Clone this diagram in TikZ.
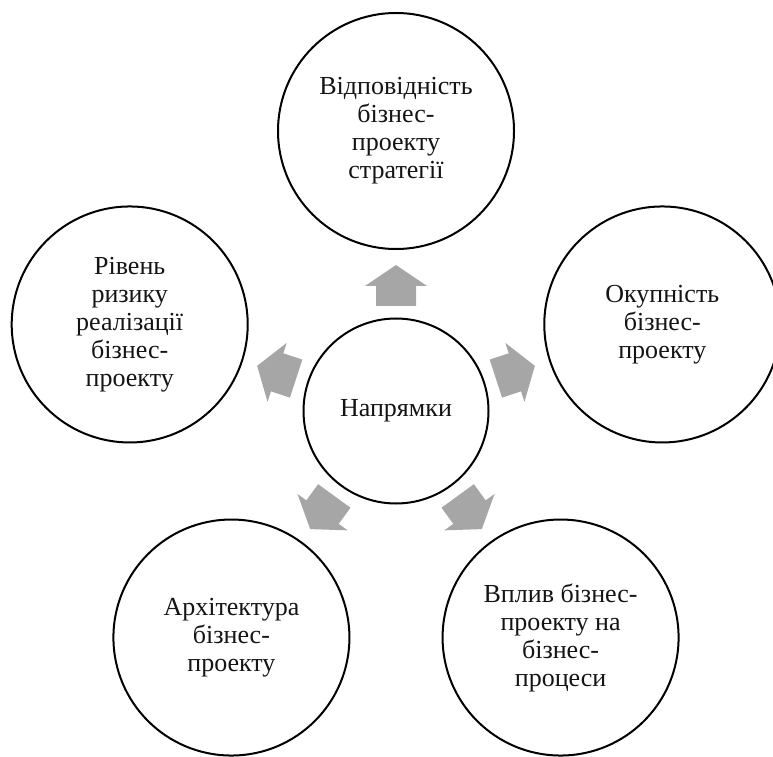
\documentclass[tikz,border=0pt]{standalone}
\usepackage{fontspec}
\setmainfont{Liberation Serif}
\usetikzlibrary{calc}
\definecolor{arrowgray}{RGB}{166,166,166}
\definecolor{txt}{RGB}{20,20,20}
\begin{document}
\begin{tikzpicture}[x=1pt,y=1pt,
  circ/.style={circle,draw=black,line width=2pt,fill=white,inner sep=0pt,
    align=center,text=txt,font=\fontsize{26}{28}\selectfont},
  outer/.style={circ,minimum size=236pt},
  inner/.style={circ,minimum size=185pt},
  blockarrow/.style={fill=arrowgray}]
\useasboundingbox (0,0) rectangle (773,756);
\node[inner] (c) at (396,345) {Напрямки};
\node[outer] (top) at ($(c.center)+(90:280)$) {Відповідність\\бізнес-\\проекту\\стратегії};
\node[outer] (right) at ($(c.center)+(18:280)$) {Окупність\\бізнес-\\проекту};
\node[outer] (bright) at ($(c.center)+(-54:280)$) {Вплив бізнес-\\проекту на\\бізнес-\\процеси};
\node[outer] (bleft) at ($(c.center)+(-126:280)$) {Архітектура\\бізнес-\\проекту};
\node[outer] (left) at ($(c.center)+(162:280)$) {Рівень\\ризику\\реалізації\\бізнес-\\проекту};
\foreach \a in {90,18,-54,-126,162}{
  \fill[blockarrow,shift={(c.center)},rotate=\a]
    (105,-20) -- (125,-20) -- (125,-31) -- (146,0) -- (125,31) -- (125,20) -- (105,20) -- cycle;
}
\end{tikzpicture}
\end{document}
